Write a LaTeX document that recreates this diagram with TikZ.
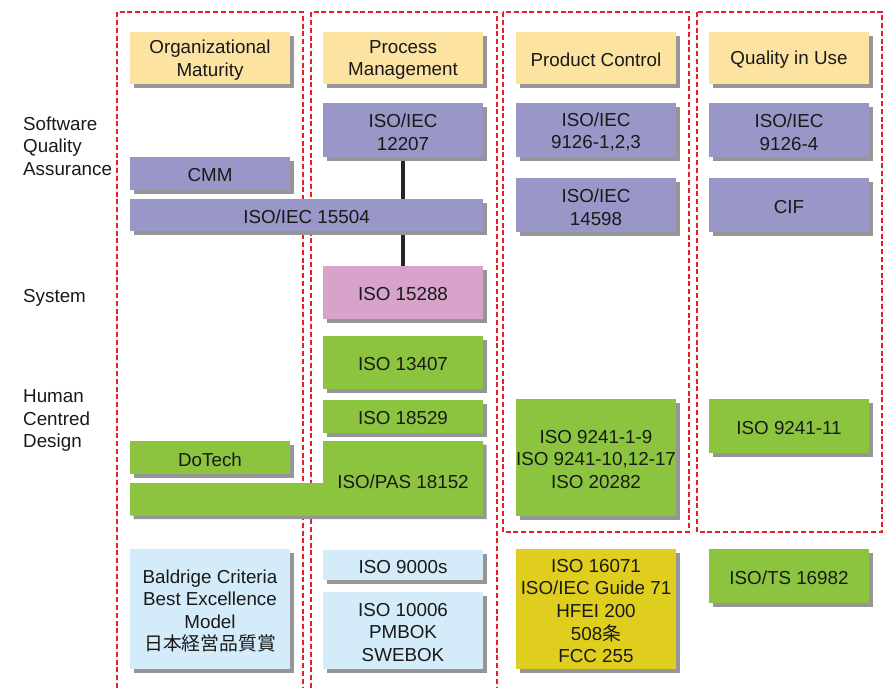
\documentclass[tikz,border=0pt]{standalone}
\usepackage{fontspec}
\setmainfont{Liberation Sans}
\newfontfamily\cjk{Noto Sans CJK JP}
\usetikzlibrary{shadows,backgrounds}

\definecolor{headfill}{RGB}{253,227,161}
\definecolor{purplefill}{RGB}{153,150,200}
\definecolor{pinkfill}{RGB}{215,163,203}
\definecolor{greenfill}{RGB}{140,196,63}
\definecolor{bluefill}{RGB}{212,236,249}
\definecolor{yellowfill}{RGB}{224,206,30}
\definecolor{shadowgray}{RGB}{150,150,152}
\definecolor{framered}{RGB}{234,30,40}

\tikzset{
  every node/.style={font=\fontsize{18.8}{22.6}\selectfont, text=black!90},
  boxtext/.style={align=center, inner sep=0pt, yshift=-2pt},
  txt/.style={label={[boxtext]center:{#1}}},
  box/.style={rectangle, inner sep=0pt, draw=none,
    drop shadow={shadow xshift=3.5pt, shadow yshift=-3.5pt, fill=shadowgray, opacity=1}},
  head/.style={box, fill=headfill, minimum width=160pt, minimum height=52pt},
  sqa/.style={box, fill=purplefill},
  sys/.style={box, fill=pinkfill},
  hcd/.style={box, fill=greenfill},
  gen/.style={box, fill=bluefill},
  acc/.style={box, fill=yellowfill},
  rowlabel/.style={anchor=west, align=left, inner sep=0pt},
  frame/.style={draw=framered, line width=2.5pt, dash pattern=on 5pt off 2.8pt},
  link/.style={line width=4pt, draw=black!85}
}

\begin{document}
\begin{tikzpicture}[x=1pt, y=-1pt]
\useasboundingbox (0,0) rectangle (883,688);

% column frames
\draw[frame] (117,688) -- (117,12) -- (303,12) -- (303,688);
\draw[frame] (311,688) -- (311,12) -- (497,12) -- (497,688);
\draw[frame] (503,12) rectangle (689,532);
\draw[frame] (697,12) rectangle (882,532);

% row labels
\node[rowlabel] (lsqa) at (23,146) {Software\\Quality\\Assurance};
\node[rowlabel] (lsys) at (23,297.5) {System};
\node[rowlabel] (lhcd) at (23,420.5) {Human\\Centred\\Design};

% column headers
\node[head, txt={Organizational\\Maturity}] (hOrg)  at (210,58) {};
\node[head, txt={Process\\Management}]      (hProc) at (403,58) {};
\node[head, txt={Product Control}]          (hProd) at (596,58) {};
\node[head, txt={Quality in Use}]           (hQual) at (789,58) {};

% software quality assurance
\node[sqa, minimum width=160pt, minimum height=54pt, txt={ISO/IEC\\12207}] (i12207) at (403,130) {};
\node[sqa, minimum width=160pt, minimum height=54pt, txt={ISO/IEC\\9126-1,2,3}] (i9126a) at (596,130) {};
\node[sqa, minimum width=160pt, minimum height=54pt, txt={ISO/IEC\\9126-4}] (i9126b) at (789,130) {};
\node[sqa, minimum width=160pt, minimum height=33pt, txt={CMM}] (cmm) at (210,173.5) {};
\node[sqa, minimum width=353pt, minimum height=32pt, txt={ISO/IEC 15504}] (i15504) at (306.5,215) {};
\node[sqa, minimum width=160pt, minimum height=54pt, txt={ISO/IEC\\14598}] (i14598) at (596,205) {};
\node[sqa, minimum width=160pt, minimum height=54pt, txt={CIF}] (cif) at (789,205) {};

% system
\node[sys, minimum width=160pt, minimum height=53pt, txt={ISO 15288}] (i15288) at (403,292.5) {};

% human centred design
\node[hcd, minimum width=160pt, minimum height=53pt, txt={ISO 13407}] (i13407) at (403,362.5) {};
\node[hcd, minimum width=160pt, minimum height=33pt, txt={ISO 18529}] (i18529) at (403,416.5) {};
\node[hcd, minimum width=160pt, minimum height=33pt, txt={DoTech}] (dotech) at (210,457.5) {};
\fill[greenfill, drop shadow={shadow xshift=3.5pt, shadow yshift=-3.5pt, fill=shadowgray, opacity=1}]
  (130,483) -- (323,483) -- (323,441) -- (483,441) -- (483,515.5) -- (130,515.5) -- cycle;
\node[inner sep=0pt] (pas) at (403,482) {ISO/PAS 18152};
\node[hcd, minimum width=160pt, minimum height=117pt, txt={ISO 9241-1-9\\ISO 9241-10,12-17\\ISO 20282}] (i9241) at (596,457.5) {};
\node[hcd, minimum width=160pt, minimum height=54pt, txt={ISO 9241-11}] (i924111) at (789,426) {};

% general and accessibility standards
\node[gen, minimum width=160pt, minimum height=120pt, txt={Baldrige Criteria\\Best Excellence\\Model\\{\cjk 日本経営品質賞}}] (baldrige) at (210,609) {};
\node[gen, minimum width=160pt, minimum height=30pt, txt={ISO 9000s}] (i9000) at (403,565) {};
\node[gen, minimum width=160pt, minimum height=77pt, txt={ISO 10006\\PMBOK\\SWEBOK}] (i10006) at (403,630.5) {};
\node[acc, minimum width=160pt, minimum height=120pt, txt={ISO 16071\\ISO/IEC Guide 71\\HFEI 200\\508{\cjk 条}\\FCC 255}] (i16071) at (596,609) {};
\node[hcd, minimum width=160pt, minimum height=54pt, txt={ISO/TS 16982}] (i16982) at (789,576) {};

% process link behind the boxes
\begin{pgfonlayer}{background}
  \draw[link] (i12207.south) -- (i15288.north);
\end{pgfonlayer}
\end{tikzpicture}
\end{document}
